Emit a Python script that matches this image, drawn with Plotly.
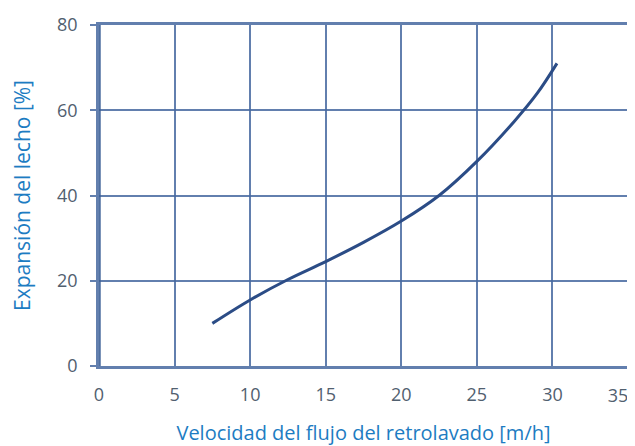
import plotly.graph_objects as go

velocidad = [7.5, 10, 12.5, 15, 17.5, 20, 22.5, 25, 27.5, 29, 30.3]
expansion = [10, 15.5, 20.3, 24.5, 29, 34, 40, 48, 57.5, 64, 71]

x_ticks = [0, 5, 10, 15, 20, 25, 30, 35]
y_ticks = [0, 20, 40, 60, 80]

grid_col = "rgba(70,105,160,0.85)"
tick_font = dict(size=18, color="#51606f", family="Open Sans, Noto Sans, sans-serif")
title_font = dict(size=20, color="#1d7cc2", family="Open Sans, Noto Sans, sans-serif")
ytitle_font = dict(size=21, color="#1d7cc2", family="Open Sans, Noto Sans, sans-serif")

fig = go.Figure()
fig.add_trace(go.Scatter(x=velocidad, y=expansion, mode="lines",
                         line=dict(color="#2b4c86", width=3, shape="spline", smoothing=1.0),
                         hoverinfo="skip"))

fig.update_layout(
    width=627, height=438,
    margin=dict(l=91, r=4, t=13, b=77),
    paper_bgcolor="white", plot_bgcolor="white",
    showlegend=False,
    xaxis=dict(range=[0, 35], tickvals=x_ticks[:-1], showgrid=True, gridcolor=grid_col, gridwidth=1.6,
               zeroline=False, showline=True, linecolor=grid_col, linewidth=2.5, mirror=True,
               ticks="", tickfont=tick_font, ticklabelstandoff=11,
               title=dict(text="Velocidad del flujo del retrolavado [m/h]", font=title_font, standoff=22)),
    xaxis2=dict(range=[0, 35], tickvals=x_ticks[-1:], overlaying="x", side="bottom",
                showgrid=False, zeroline=False, showline=False, ticks="",
                ticklabelshift=-10, ticklabeloverflow="allow",
                tickfont=tick_font, ticklabelstandoff=17),
    yaxis=dict(range=[0, 80], tickvals=y_ticks, showgrid=True, gridcolor=grid_col, gridwidth=1.6,
               zeroline=False, showline=True, linecolor=grid_col, linewidth=2.5, mirror=True,
               ticks="outside", ticklen=6, tickcolor=grid_col, tickwidth=1.6,
               tickfont=tick_font, ticklabelstandoff=9,
               title=dict(text="Expansión del lecho [%]", font=ytitle_font, standoff=29)),
)
fig.add_trace(go.Scatter(x=[35], y=[0], xaxis="x2", mode="markers", marker=dict(opacity=0),
                         hoverinfo="skip"))
fig.add_shape(type="line", xref="x", yref="y", x0=0, x1=0, y0=0, y1=80,
              line=dict(color="rgba(60,95,150,0.9)", width=3.5))
fig.write_html("out.html")
